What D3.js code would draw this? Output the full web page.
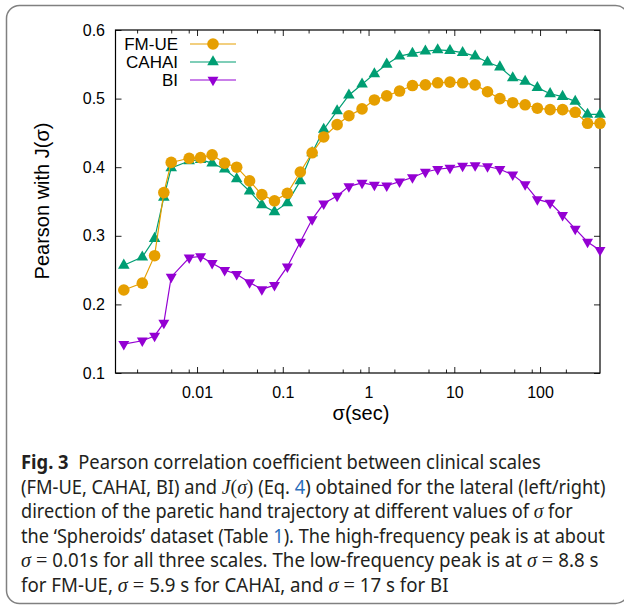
<!DOCTYPE html>
<html>
<head>
<meta charset="utf-8">
<script src="https://cdn.jsdelivr.net/npm/d3@7"></script>
<style>
  body { margin: 0; background: #fff; }
  text { white-space: pre; }
</style>
</head>
<body>
<div id="chart"></div>
<script>
// sigma values (sec)
var sigma = [0.0014, 0.0023, 0.0032, 0.0041, 0.005, 0.0081, 0.011, 0.015, 0.021, 0.029,
  0.041, 0.057, 0.08, 0.113, 0.16, 0.22, 0.3, 0.43, 0.59, 0.84,
  1.17, 1.63, 2.3, 3.25, 4.6, 6.4, 8.9, 12.5, 17.5, 24.4,
  34, 48, 67, 93, 131, 183, 257, 358, 500];

var fmue = [0.221, 0.231, 0.271, 0.363, 0.407, 0.413, 0.414, 0.418, 0.406, 0.400,
  0.380, 0.360, 0.351, 0.362, 0.393, 0.421, 0.444, 0.462, 0.475, 0.485,
  0.498, 0.504, 0.511, 0.519, 0.520, 0.523, 0.524, 0.523, 0.520, 0.510,
  0.500, 0.494, 0.491, 0.486, 0.484, 0.484, 0.480, 0.464, 0.464];

var cahai = [0.257, 0.269, 0.296, 0.356, 0.399, 0.409, 0.411, 0.406, 0.397, 0.383,
  0.365, 0.345, 0.335, 0.348, 0.380, 0.421, 0.455, 0.482, 0.505, 0.521,
  0.536, 0.550, 0.562, 0.566, 0.569, 0.571, 0.570, 0.567, 0.562, 0.553,
  0.546, 0.530, 0.525, 0.516, 0.507, 0.503, 0.496, 0.477, 0.477];

var bi = [0.142, 0.147, 0.154, 0.173, 0.240, 0.268, 0.270, 0.260, 0.250, 0.244,
  0.232, 0.222, 0.228, 0.255, 0.291, 0.324, 0.347, 0.358, 0.372, 0.377,
  0.374, 0.373, 0.379, 0.385, 0.393, 0.397, 0.399, 0.402, 0.4025, 0.401,
  0.397, 0.389, 0.375, 0.353, 0.348, 0.330, 0.310, 0.291, 0.279];

var series_names = ["FM-UE", "CAHAI", "BI"];
var series_colors = ["#E69F00", "#009E73", "#9400D3"];
var series_marks = ["circle", "up", "down"];

var x_major = [0.01, 0.1, 1, 10, 100];
var x_labels = ["0.01", "0.1", "1", "10", "100"];
var y_major = [0.1, 0.2, 0.3, 0.4, 0.5, 0.6];

var caption = [
  [["Fig. 3", "b"], ["  Pearson correlation coefficient between clinical scales", ""]],
  [["(FM-UE, CAHAI, BI) and ", ""], ["J", "m"], ["(", "s"], ["σ", "m"], [")", "s"], [" (Eq. ", ""], ["4", "l"], [") obtained for the lateral (left/right)", ""]],
  [["direction of the paretic hand trajectory at different values of ", ""], ["σ", "m"], [" for", ""]],
  [["the ‘Spheroids’ dataset (Table ", ""], ["1", "l"], ["). The high-frequency peak is at about", ""]],
  [["σ", "m"], [" = ", "s"], ["0.01s for all three scales. The low-frequency peak is at ", ""], ["σ", "m"], [" = ", "s"], ["8.8 s", ""]],
  [["for FM-UE, ", ""], ["σ", "m"], [" = ", "s"], ["5.9 s for CAHAI, and ", ""], ["σ", "m"], [" = ", "s"], ["17 s for BI", ""]]
];
var caption_ends = [541, 606, 573, 605, 599, 449];

var W = 624, H = 606;
var pLeft = 115.5, pRight = 600, pTop = 30, pBottom = 373;
var font = "'Liberation Sans', Arial, Helvetica, sans-serif";

var svg = d3.select("#chart").append("svg")
  .attr("width", W)
  .attr("height", H)
  .style("display", "block");

svg.append("rect").attr("width", W).attr("height", H).attr("fill", "#fff");

//Rounded frame around the figure
svg.append("rect")
  .attr("x", 6.5).attr("y", 5.5)
  .attr("width", 622).attr("height", 598)
  .attr("rx", 13)
  .attr("fill", "none")
  .attr("stroke", "#808080")
  .attr("stroke-width", 1.5);

var x = d3.scaleLog().domain([0.00112, 500]).range([pLeft, pRight]);
var y = d3.scaleLinear().domain([0.1, 0.6]).range([pBottom, pTop]);

//minor ticks at 2,5,8 of every decade
var x_minor = [];
[0.001, 0.01, 0.1, 1, 10, 100].forEach(function(d) {
  [2, 5, 8].forEach(function(m) {
    var v = d * m;
    if (v > 0.00112 && v < 500) x_minor.push(v);
  });
});

function styleAxis(g) {
  g.select(".domain").remove();
  g.selectAll("line").attr("stroke", "#222").attr("stroke-width", 1);
  g.selectAll("text").attr("font-family", font).attr("font-size", 16).attr("fill", "#000");
}

svg.append("g")
  .attr("transform", "translate(0," + pBottom + ")")
  .call(d3.axisBottom(x).tickValues(x_major).tickSize(-6).tickPadding(13.6)
    .tickFormat(function(d, i) { return x_labels[i]; }))
  .call(styleAxis);
svg.append("g")
  .attr("transform", "translate(0," + pBottom + ")")
  .call(d3.axisBottom(x).tickValues(x_minor).tickSize(-3.5).tickFormat(""))
  .call(styleAxis);
svg.append("g")
  .attr("transform", "translate(0," + pTop + ")")
  .call(d3.axisTop(x).tickValues(x_major).tickSize(-6).tickFormat(""))
  .call(styleAxis);
svg.append("g")
  .attr("transform", "translate(0," + pTop + ")")
  .call(d3.axisTop(x).tickValues(x_minor).tickSize(-3.5).tickFormat(""))
  .call(styleAxis);

svg.append("g")
  .attr("transform", "translate(" + pLeft + ",0)")
  .call(d3.axisLeft(y).tickValues(y_major).tickSize(-6).tickPadding(10.5).tickFormat(d3.format(".1f")))
  .call(styleAxis);
svg.append("g")
  .attr("transform", "translate(" + pRight + ",0)")
  .call(d3.axisRight(y).tickValues(y_major).tickSize(-6).tickFormat(""))
  .call(styleAxis);

//plot border
svg.append("rect")
  .attr("x", pLeft).attr("y", pTop)
  .attr("width", pRight - pLeft).attr("height", pBottom - pTop)
  .attr("fill", "none")
  .attr("stroke", "#000")
  .attr("stroke-width", 1.2);

function marker(g, kind, color) {
  if (kind == "circle") {
    g.append("circle").attr("r", 5.8).attr("fill", color);
  } else {
    var sym = d3.symbol().type(d3.symbolTriangle).size(kind == "down" ? 52 : 58);
    g.append("path")
      .attr("d", sym())
      .attr("transform", kind == "down" ? "rotate(180)" : null)
      .attr("fill", color);
  }
}

var all_series = [fmue, cahai, bi];
var line = d3.line()
  .x(function(d, i) { return x(sigma[i]); })
  .y(function(d) { return y(d); });

//draw BI first so the upper curves sit on top
[2, 1, 0].forEach(function(s) {
  var vals = all_series[s];
  var g = svg.append("g");
  g.append("path")
    .attr("d", line(vals))
    .attr("fill", "none")
    .attr("stroke", series_colors[s])
    .attr("stroke-width", 1.2);
  vals.forEach(function(v, i) {
    var m = g.append("g").attr("transform", "translate(" + x(sigma[i]) + "," + y(v) + ")");
    marker(m, series_marks[s], series_colors[s]);
  });
});

//Legend
series_names.forEach(function(name, i) {
  var ly = 44 + i * 18;
  svg.append("text")
    .attr("x", 178).attr("y", ly + 6)
    .attr("text-anchor", "end")
    .attr("font-family", font).attr("font-size", 17)
    .text(name);
  svg.append("line")
    .attr("x1", 190).attr("x2", 236)
    .attr("y1", ly).attr("y2", ly)
    .attr("stroke", series_colors[i]).attr("stroke-width", 1.2);
  var m = svg.append("g").attr("transform", "translate(213," + ly + ")");
  marker(m, series_marks[i], series_colors[i]);
});

//Axis titles
svg.append("text")
  .attr("transform", "translate(49,201) rotate(-90)")
  .attr("text-anchor", "middle")
  .attr("font-family", font).attr("font-size", 20)
  .text("Pearson with J(σ)");

svg.append("text")
  .attr("x", 361).attr("y", 420)
  .attr("text-anchor", "middle")
  .attr("font-family", font).attr("font-size", 20)
  .text("σ(sec)");

//Caption: each line is squeezed horizontally to the width it has in the print
var capFont = "'Noto Sans', 'Open Sans', sans-serif";
var serif = "'Liberation Serif', 'DejaVu Serif', serif";
caption.forEach(function(parts, i) {
  var g = svg.append("g");
  var t = g.append("text")
    .attr("x", 0)
    .attr("y", 0)
    .attr("font-family", capFont)
    .attr("font-size", 19.5)
    .attr("fill", "#231f20");
  parts.forEach(function(p) {
    var ts = t.append("tspan").text(p[0]);
    if (p[1] == "b") ts.attr("font-weight", 700);
    if (p[1] == "m") ts.attr("font-family", serif).attr("font-style", "italic").attr("font-size", 21);
    if (p[1] == "s") ts.attr("font-family", serif).attr("font-size", 21);
    if (p[1] == "l") ts.attr("fill", "#2a6ebb");
  });
  var natural = t.node().getComputedTextLength();
  var sx = (caption_ends[i] - 21) / natural;
  g.attr("transform", "translate(21," + (469 + i * 24.6) + ") scale(" + sx + ",1)");
});
</script>
</body>
</html>
